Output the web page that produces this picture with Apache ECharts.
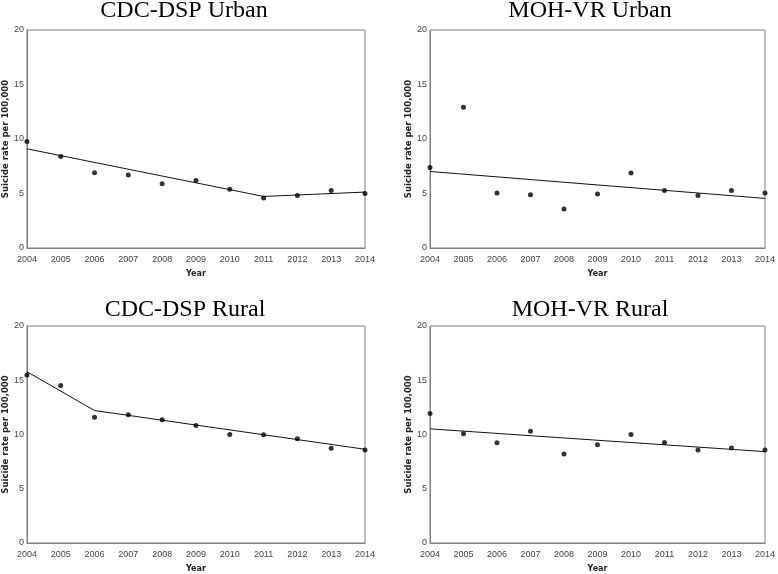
<!DOCTYPE html>
<html><head><meta charset="utf-8">
<script src="https://cdn.jsdelivr.net/npm/echarts@6/dist/echarts.min.js"></script>
<style>html,body{margin:0;padding:0;background:#fff}#c{width:778px;height:574px}</style>
</head><body><div id="c"></div>
<script>
const years = [2004,2005,2006,2007,2008,2009,2010,2011,2012,2013,2014];
const panelTitles = ['CDC-DSP Urban','MOH-VR Urban','CDC-DSP Rural','MOH-VR Rural'];
const yTicks = [0,5,10,15,20];
const xAxisTitle = 'Year';
const yAxisTitle = 'Suicide rate per 100,000';

// observed rates
const dspUrbanObs = [9.77,8.40,6.90,6.69,5.89,6.20,5.40,4.58,4.82,5.28,5.01];
const vrUrbanObs  = [7.39,12.92,5.04,4.89,3.57,4.95,6.87,5.28,4.82,5.28,5.04];
const dspRuralObs = [15.48,14.52,11.58,11.82,11.36,10.82,10.00,9.97,9.61,8.73,8.58];
const vrRuralObs  = [11.94,10.06,9.24,10.30,8.21,9.06,10.00,9.27,8.58,8.76,8.58];

// fitted trend (joinpoints) [year, rate]
const dspUrbanFit = [[2004,9.10],[2011,4.73],[2014,5.13]];
const vrUrbanFit  = [[2004,7.02],[2014,4.55]];
const dspRuralFit = [[2004,15.79],[2006,12.21],[2014,8.64]];
const vrRuralFit  = [[2004,10.52],[2014,8.42]];

const obs = [dspUrbanObs, vrUrbanObs, dspRuralObs, vrRuralObs];
const fits = [dspUrbanFit, vrUrbanFit, dspRuralFit, vrRuralFit];

const grids = [
  {left:24, top:30, width:341, height:218},
  {left:430, top:30, width:340, height:218},
  {left:26, top:326, width:339, height:220},
  {left:430, top:326, width:340, height:220}
];
const titlePos = [[184,11],[590,11],[185,310],[590,310]];
const tickFont = '"Liberation Sans Narrow","Arial Narrow","Liberation Sans",sans-serif';
const axisGray = '#808080';

const option = {
  animation:false,
  backgroundColor:'#fff',
  grid: grids.map(g=>Object.assign({show:true, borderColor:axisGray, borderWidth:1, backgroundColor:'transparent'}, g)),
  xAxis: grids.map((g,i)=>({
    gridIndex:i, type:'value', min:2004, max:2014, interval:1,
    name:xAxisTitle, nameLocation:'middle', nameGap:22,
    nameTextStyle:{fontFamily:'DejaVu Sans', fontWeight:'bold', fontSize:8, color:'#222'},
    axisLine:{show:true, lineStyle:{color:axisGray, width:1}},
    axisTick:{show:false}, splitLine:{show:false},
    axisLabel:{margin:7, fontFamily:tickFont, fontSize:9, color:'#444', formatter:v=>String(v)}
  })),
  yAxis: grids.map((g,i)=>({
    gridIndex:i, type:'value', min:yTicks[0], max:yTicks[yTicks.length-1], interval:5,
    name:yAxisTitle, nameLocation:'middle', nameGap:16,
    nameTextStyle:{fontFamily:'DejaVu Sans', fontWeight:'bold', fontSize:8.5, color:'#222'},
    axisLine:{show:true, lineStyle:{color:axisGray, width:1}},
    axisTick:{show:false}, splitLine:{show:false},
    axisLabel:{margin:3, fontFamily:tickFont, fontSize:9, color:'#444'}
  })),
  series: [],
  graphic: panelTitles.map((t,i)=>({
    type:'text', x:titlePos[i][0], y:titlePos[i][1],
    style:{text:t, font:'24px "Liberation Serif","Times New Roman",serif', fill:'#000', textAlign:'center', textVerticalAlign:'middle'}
  }))
};
for (let i=0;i<4;i++){
  option.series.push({
    type:'line', xAxisIndex:i, yAxisIndex:i, data:fits[i], showSymbol:false, symbol:'none',
    lineStyle:{color:'#111', width:1}, z:2
  });
  option.series.push({
    type:'scatter', xAxisIndex:i, yAxisIndex:i,
    data:years.map((y,k)=>[y, obs[i][k]]), symbol:'circle', symbolSize:5,
    itemStyle:{color:'#000'}, z:3
  });
}
const chart = echarts.init(document.getElementById('c'), null, {renderer:'canvas'});
chart.setOption(option);
</script>
</body></html>
